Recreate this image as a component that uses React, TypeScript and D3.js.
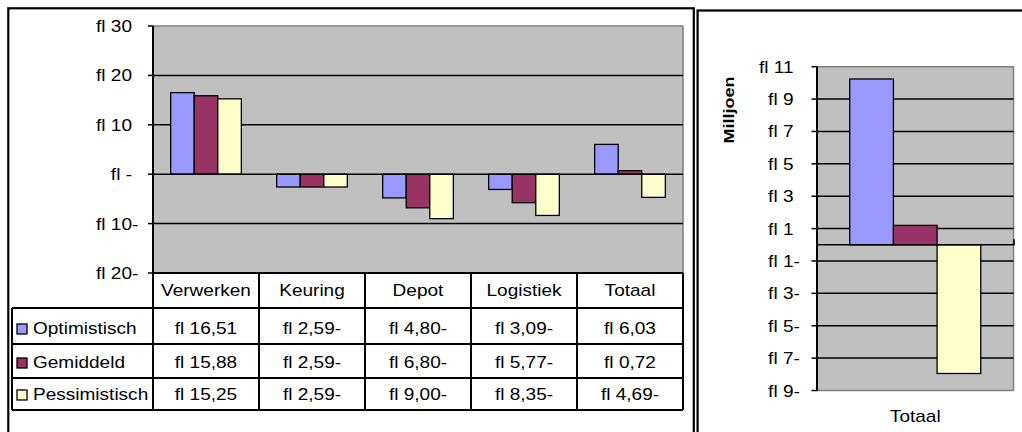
import React from "react";
import * as d3 from "d3";

// Scenario results per department (fl, millions)
const categories = ["Verwerken", "Keuring", "Depot", "Logistiek", "Totaal"];
const seriesNames = ["Optimistisch", "Gemiddeld", "Pessimistisch"];
const optimistisch = [16.51, -2.59, -4.8, -3.09, 6.03];
const gemiddeld = [15.88, -2.59, -6.8, -5.77, 0.72];
const pessimistisch = [15.25, -2.59, -9.0, -8.35, -4.69];
const leftTicks = [30, 20, 10, 0, -10, -20];

// Total per scenario, in millions
const totalCategory = ["Totaal"];
const totalValues = [10.24, 1.2, -7.95];
const rightTicks = [11, 9, 7, 5, 3, 1, -1, -3, -5, -7, -9];

const seriesValues = [optimistisch, gemiddeld, pessimistisch];
const colors = ["#9999FF", "#993366", "#FFFFCC"];

const FONT = "'Liberation Sans', Arial, sans-serif";
const SX = 1.12; // horizontal stretch of all lettering
const FS = 17;
const PLOT_FILL = "#C0C0C0";
const PLOT_EDGE = "#808080";

const fmtCell = (v: number) =>
  v < 0 ? `fl ${Math.abs(v).toFixed(2).replace(".", ",")}-` : `fl ${v.toFixed(2).replace(".", ",")}`;

function Txt({ x, y, children, anchor = "start", weight = "normal", size = FS, rotate = 0, sx = SX }: any) {
  const t = rotate ? `translate(${x},${y}) rotate(${rotate}) scale(${sx},1)` : `translate(${x},${y}) scale(${sx},1)`;
  return (
    <text transform={t} textAnchor={anchor} fontFamily={FONT} fontSize={size} fontWeight={weight} fill="#000">
      {children}
    </text>
  );
}

// Accounting style axis label: digits right aligned, trailing minus sticks out
function AxisLabel({ v, x, y }: { v: number; x: number; y: number }) {
  if (v === 0) return <Txt x={x} y={y} anchor="end">fl -</Txt>;
  return (
    <g>
      <Txt x={x} y={y} anchor="end">{`fl ${Math.abs(v)}`}</Txt>
      {v < 0 && <Txt x={x} y={y}>-</Txt>}
    </g>
  );
}

function LeftChart() {
  const x0 = 153, x1 = 683, yTop = 26, yBot = 273;
  const y = d3.scaleLinear().domain([-20, 30]).range([yBot, yTop]);
  const xBand = d3.scaleBand<string>().domain(categories).range([x0, x1]).padding(0);
  const xInner = d3.scaleBand<string>().domain(seriesNames).range([0, xBand.bandwidth()]).paddingInner(0).paddingOuter(0.75);
  const rowEdges = [273, 308, 344, 378, 410];
  const colEdges = categories.map((c) => xBand(c)!).concat([x1]);
  const line = { stroke: "#000", strokeWidth: 2 };

  return (
    <g>
      <rect x={8.3} y={8.3} width={685.5} height={440} fill="#fff" stroke="#000" strokeWidth={2.2} />
      <rect x={x0} y={yTop} width={x1 - x0} height={yBot - yTop} fill={PLOT_FILL} stroke={PLOT_EDGE} strokeWidth={1.5} />
      {leftTicks.filter((t) => t !== 30 && t !== -20 && t !== 0).map((t) => (
        <line key={t} x1={x0} x2={x1} y1={y(t)} y2={y(t)} stroke="#000" strokeWidth={1.5} />
      ))}
      {categories.map((c, ci) =>
        seriesNames.map((s, si) => {
          const v = seriesValues[si][ci];
          return (
            <rect
              key={c + s}
              x={xBand(c)! + xInner(s)!}
              y={Math.min(y(v), y(0))}
              width={xInner.bandwidth()}
              height={Math.abs(y(v) - y(0))}
              fill={colors[si]}
              stroke="#000"
              strokeWidth={1.3}
            />
          );
        })
      )}
      <line x1={x0} x2={x1} y1={y(0)} y2={y(0)} stroke="#000" strokeWidth={1.5} />
      <line x1={x0} x2={x0} y1={yTop} y2={yBot} stroke="#000" strokeWidth={2} />
      {leftTicks.map((t) => (
        <g key={t}>
          <line x1={x0 - 5} x2={x0} y1={y(t)} y2={y(t)} stroke="#000" strokeWidth={1.5} />
          <AxisLabel v={t} x={132} y={y(t) + 6} />
        </g>
      ))}
      {/* data table */}
      <line x1={x0} x2={x1} y1={rowEdges[0]} y2={rowEdges[0]} {...line} />
      {rowEdges.slice(1).map((r) => (
        <line key={r} x1={12} x2={x1} y1={r} y2={r} {...line} />
      ))}
      {colEdges.map((cx) => (
        <line key={cx} x1={cx} x2={cx} y1={rowEdges[0]} y2={rowEdges[4]} {...line} />
      ))}
      <line x1={12} x2={12} y1={rowEdges[1]} y2={rowEdges[4]} {...line} />
      {categories.map((c) => (
        <Txt key={c} x={xBand(c)! + xBand.bandwidth() / 2} y={296} anchor="middle">{c}</Txt>
      ))}
      {seriesNames.map((s, si) => {
        const base = rowEdges[si + 2] - 10;
        return (
          <g key={s}>
            <rect x={17} y={base - 10} width={10} height={10} fill={colors[si]} stroke="#000" strokeWidth={1.3} />
            <Txt x={33} y={base}>{s}</Txt>
            {categories.map((c, ci) => (
              <Txt key={c} x={xBand(c)! + xBand.bandwidth() / 2} y={base} anchor="middle">
                {fmtCell(seriesValues[si][ci])}
              </Txt>
            ))}
          </g>
        );
      })}
    </g>
  );
}

function RightChart() {
  const x0 = 817, x1 = 1013.5, yTop = 66.7, yBot = 390.5;
  const y = d3.scaleLinear().domain([-9, 11]).range([yBot, yTop]);
  const xBand = d3.scaleBand<string>().domain(totalCategory).range([x0, x1]).padding(0);
  const xInner = d3.scaleBand<string>().domain(seriesNames).range([0, xBand.bandwidth()]).paddingInner(0).paddingOuter(0.75);

  return (
    <g>
      <rect x={697.6} y={10.5} width={400} height={440} fill="#fff" stroke="#000" strokeWidth={2.2} />
      <rect x={x0} y={yTop} width={x1 - x0} height={yBot - yTop} fill={PLOT_FILL} stroke={PLOT_EDGE} strokeWidth={1.5} />
      {rightTicks.filter((t) => t !== 11 && t !== -9).map((t) => (
        <line key={t} x1={x0} x2={x1} y1={y(t)} y2={y(t)} stroke="#000" strokeWidth={1.5} />
      ))}
      {seriesNames.map((s, si) => {
        const v = totalValues[si];
        return (
          <rect
            key={s}
            x={xBand("Totaal")! + xInner(s)!}
            y={Math.min(y(v), y(0))}
            width={xInner.bandwidth()}
            height={Math.abs(y(v) - y(0))}
            fill={colors[si]}
            stroke="#000"
            strokeWidth={1.3}
          />
        );
      })}
      <line x1={x0} x2={x1 + 1} y1={y(0)} y2={y(0)} stroke="#000" strokeWidth={1.5} />
      <line x1={x0} x2={x0} y1={y(0) - 5.5} y2={y(0)} stroke="#000" strokeWidth={1.5} />
      <line x1={x1 + 0.5} x2={x1 + 0.5} y1={y(0) - 5.5} y2={y(0)} stroke="#000" strokeWidth={1.5} />
      <line x1={x0} x2={x0} y1={yTop} y2={yBot} stroke="#000" strokeWidth={2} />
      {rightTicks.map((t) => (
        <g key={t}>
          <line x1={x0 - 5.5} x2={x0} y1={y(t)} y2={y(t)} stroke="#000" strokeWidth={1.5} />
          <AxisLabel v={t} x={793.5} y={y(t) + 6} />
        </g>
      ))}
      <Txt x={(x0 + x1) / 2} y={422} anchor="middle">{totalCategory[0]}</Txt>
      <Txt x={734} y={110} anchor="middle" weight="bold" size={15} rotate={-90} sx={1.2}>Milljoen</Txt>
    </g>
  );
}

export default function App() {
  return (
    <svg
      width={1022}
      height={432}
      viewBox="0 0 1022 432"
      style={{ position: "fixed", left: 0, top: 0, display: "block", background: "#fff" }}
    >
      <rect x={0} y={0} width={1022} height={432} fill="#fff" />
      <LeftChart />
      <RightChart />
    </svg>
  );
}
